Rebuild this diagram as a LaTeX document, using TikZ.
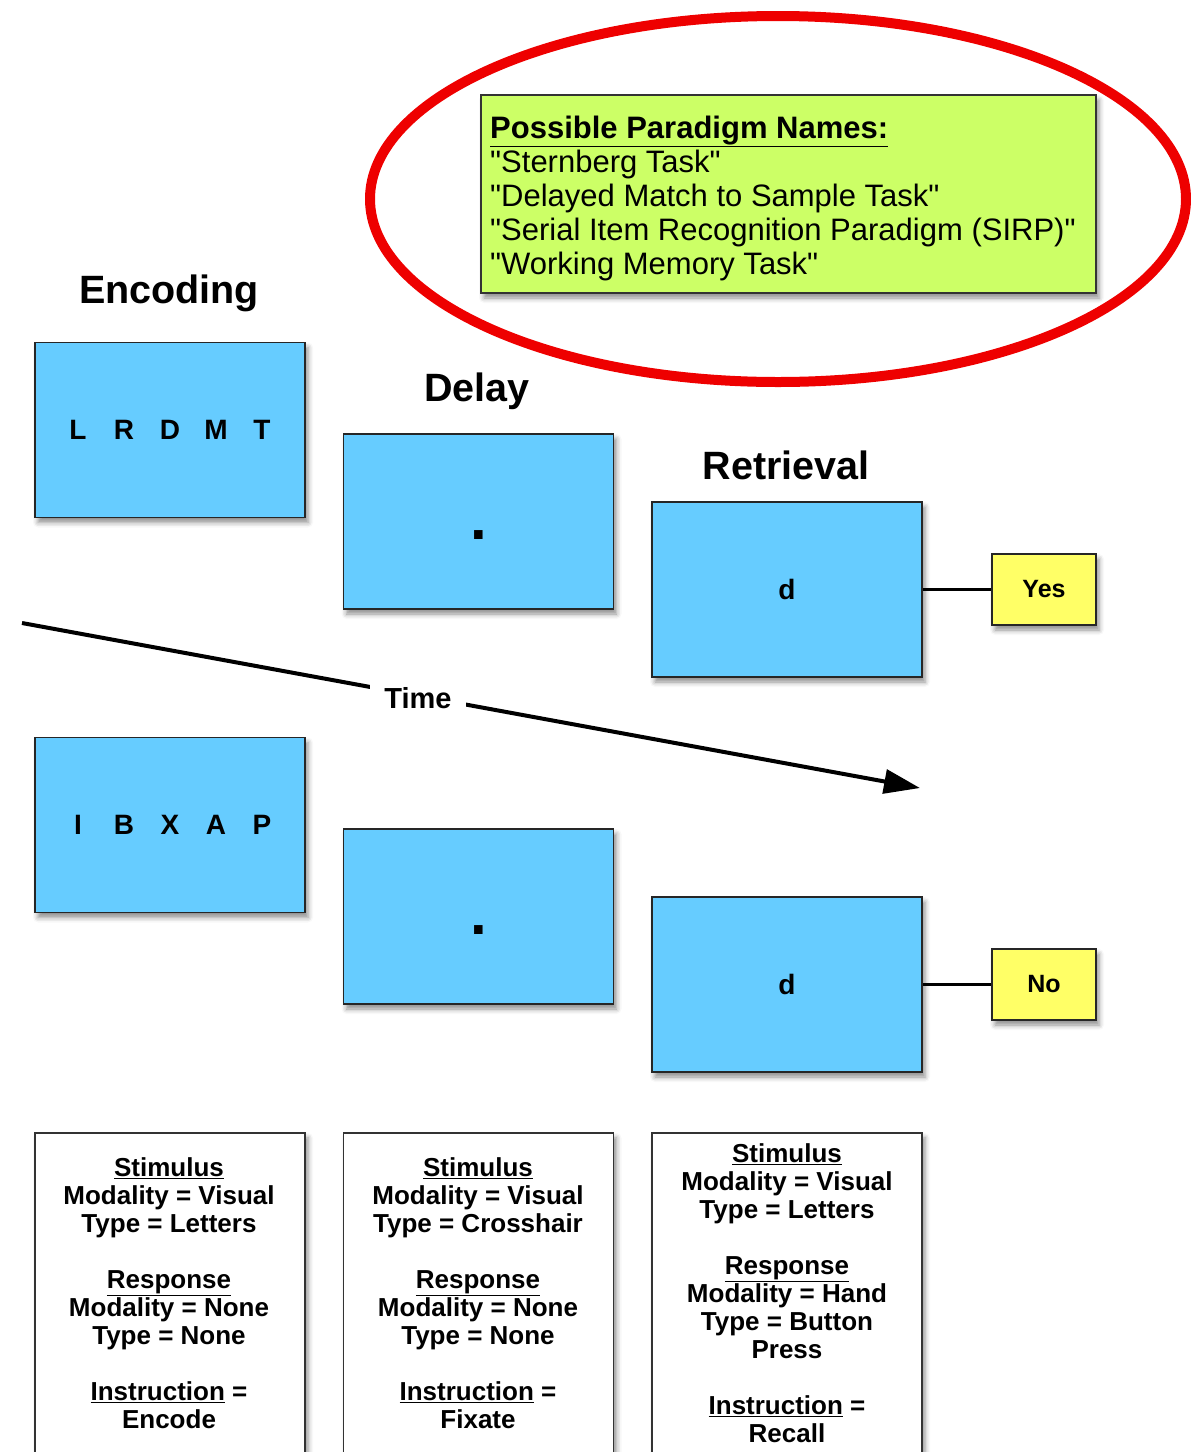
\documentclass[tikz,border=0pt]{standalone}
\usepackage{fontspec}
\setmainfont{Liberation Sans}
\newfontfamily\plainsans{Liberation Sans}
\usetikzlibrary{arrows.meta,shadows.blur}
\definecolor{boxblue}{HTML}{66CCFF}
\definecolor{boxgreen}{HTML}{CCFF66}
\definecolor{boxyellow}{HTML}{FFFF66}
\definecolor{ringred}{HTML}{EE0000}
\newcommand{\bigdot}{\smash{\raisebox{-17.5pt}{\fontsize{60}{60}\selectfont .}}}
\begin{document}
\begin{tikzpicture}[x=1pt,y=-1pt,
  shd/.style={blur shadow={shadow xshift=3pt,shadow yshift=-5pt,shadow blur radius=5pt,shadow opacity=45}},
  stimbox/.style={draw=black!85,line width=1.8pt,fill=boxblue,minimum width=270pt,minimum height=175pt,inner sep=0pt,shd,
     font=\fontsize{28}{32}\selectfont\bfseries},
  ansbox/.style={draw=black!85,line width=1.8pt,fill=boxyellow,minimum width=104pt,minimum height=71pt,inner sep=0pt,shd,
     font=\fontsize{25}{28}\selectfont\bfseries},
  infobox/.style={draw=black!80,line width=1.8pt,fill=white,minimum width=270pt,minimum height=380pt,inner sep=0pt,shd,anchor=north},
  infotext/.style={align=center,anchor=north,inner sep=0pt,font=\fontsize{26}{28}\selectfont\bfseries},
  phase/.style={font=\fontsize{39.5}{44}\selectfont\bfseries,inner sep=0pt},
  wire/.style={line width=2.5pt,draw=black}
]
\useasboundingbox (0,0) rectangle (1191,1452);
\clip (0,0) rectangle (1191,1452);

% paradigm names
\node[draw=black!80,line width=1.8pt,fill=boxgreen,minimum width=615pt,minimum height=198pt,shd] (names) at (788.5,194) {};
\node[anchor=north west,inner sep=0pt,align=left,font=\plainsans\fontsize{31}{34}\selectfont] (namestext) at (490,116)
  {{\bfseries\underline{Possible Paradigm Names:}}\\
   "Sternberg Task"\\
   "Delayed Match to Sample Task"\\
   "Serial Item Recognition Paradigm (SIRP)"\\
   "Working Memory Task"};
\draw[ringred,line width=10pt] (778,199) ellipse [x radius=408, y radius=183];

% phase titles
\node[phase] (enc) at (169,293) {Encoding};
\node[phase] (del) at (477,391) {Delay};
\node[phase] (ret) at (786,465) {Retrieval};

% trial 1
\node[stimbox] (b1) at (170,430) {\makebox[46pt]{L}\makebox[46pt]{R}\makebox[46pt]{D}\makebox[46pt]{M}\makebox[46pt]{T}};
\node[stimbox] (b2) at (478.5,521.5) {\bigdot};
\node[stimbox] (b3) at (787,589.5) {d};
\node[ansbox] (yes) at (1044,589.5) {Yes};
\draw[wire] (b3.east) -- (yes.west);

% time arrow
\coordinate (t0) at (22,623);
\coordinate (t1) at (920,788);
\draw[line width=4pt,-{Triangle[length=36pt,width=24pt]}] (t0) -- (t1);
\node[fill=white,inner xsep=14pt,inner ysep=3pt,font=\fontsize{29}{32}\selectfont\bfseries] (time) at (418,698) {Time};

% trial 2
\node[stimbox] (b4) at (170,825) {\makebox[46pt]{I}\makebox[46pt]{B}\makebox[46pt]{X}\makebox[46pt]{A}\makebox[46pt]{P}};
\node[stimbox] (b5) at (478.5,916.5) {\bigdot};
\node[stimbox] (b6) at (787,984.5) {d};
\node[ansbox] (no) at (1044,984.5) {No};
\draw[wire] (b6.east) -- (no.west);

% descriptions
\node[infobox] (i1) at (170,1132) {};
\node[infobox] (i2) at (478.5,1132) {};
\node[infobox] (i3) at (787,1132) {};
\node[infotext] (d1) at (169,1157) {\underline{Stimulus}\\ Modality = Visual\\ Type = Letters\\[28pt]
  \underline{Response}\\ Modality = None\\ Type = None\\[28pt] \underline{Instruction} =\\ Encode};
\node[infotext] (d2) at (478,1157) {\underline{Stimulus}\\ Modality = Visual\\ Type = Crosshair\\[28pt]
  \underline{Response}\\ Modality = None\\ Type = None\\[28pt] \underline{Instruction} =\\ Fixate};
\node[infotext] (d3) at (787,1143) {\underline{Stimulus}\\ Modality = Visual\\ Type = Letters\\[28pt]
  \underline{Response}\\ Modality = Hand\\ Type = Button\\ Press\\[28pt] \underline{Instruction} =\\ Recall};
\end{tikzpicture}
\end{document}
